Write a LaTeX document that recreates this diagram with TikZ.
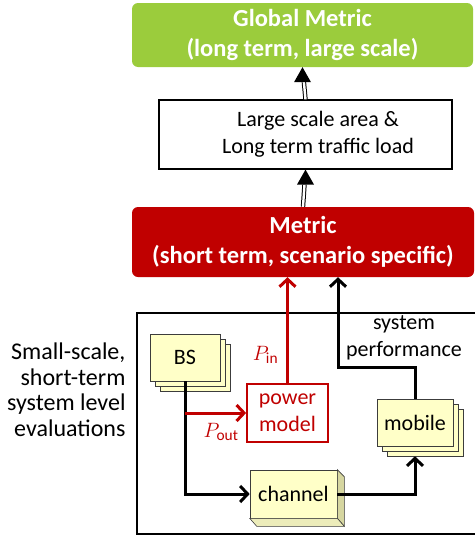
\documentclass[tikz,border=0pt]{standalone}
\usepackage{amsmath}
\usepackage{fontspec}
\setmainfont{Carlito}
\usepackage{tikz}
\usetikzlibrary{arrows.meta}
\usetikzlibrary{calc}
\usetikzlibrary{positioning}
\usetikzlibrary{shadows}
\definecolor{metricgreen}{RGB}{155,204,60}
\definecolor{metricred}{RGB}{192,0,0}
\definecolor{boxyellow}{RGB}{255,255,200}
\definecolor{sidedark}{RGB}{214,214,160}
\definecolor{sidelight}{RGB}{236,236,186}
\definecolor{edgegray}{RGB}{60,60,60}

\begin{document}
\begin{tikzpicture}[line cap=butt,line join=miter,x=1pt,y=-1pt,
  txt/.style={font=\fontsize{22}{27}\selectfont},
  headbox/.style={rounded corners=6pt,minimum width=341pt,minimum height=64pt,text=white,align=center,font=\fontsize{24.5}{30}\bfseries\selectfont},
  plainbox/.style={draw=black,line width=1.2pt,fill=white,minimum width=293pt,minimum height=69pt},
  stackbox/.style={draw=edgegray,line width=0.6pt,fill=boxyellow,txt,inner sep=0pt,double copy shadow={shadow xshift=5pt,shadow yshift=-5pt}},
  chanbox/.style={draw=edgegray,line width=0.6pt,fill=boxyellow,txt,inner sep=0pt,minimum width=87pt,minimum height=48pt},
  powerbox/.style={draw=metricred,line width=1.8pt,fill=white,text=metricred,txt,align=center,inner sep=0pt,minimum width=81pt,minimum height=58pt},
  blackarrow/.style={draw=black,line width=3pt,-{Straight Barb[length=7.5pt,width=16pt]}},
  redarrow/.style={draw=metricred,line width=3pt,-{Straight Barb[length=7.5pt,width=16pt]}},
  dbltip/.style={fill=black,draw=none},
  dblshaft/.style={draw=black,double=white,double distance=2.4pt,line width=1pt,shorten >=15pt}]
\useasboundingbox (0,0) rectangle (474,538);
% evaluation frame
\draw[line width=1.5pt] (137,313) rectangle (476,534);
\node[txt,anchor=east,align=right,font=\fontsize{24}{25.5}\selectfont] (evaltext) at (129,390) {Small-scale,\\short-term\\system level\\evaluations};
% top boxes
\node[headbox,fill=metricgreen] (global) at (302.5,35) {Global Metric\\(long term, large scale)};
\node[plainbox] (area) at (305.5,134.5) {};
\node[txt,align=center] (areatext) at (318,134.5) {Large scale area \&\\Long term traffic load};
\node[headbox,fill=metricred,minimum width=342pt,minimum height=70pt] (metric) at (303,242) {Metric\\(short term, scenario specific)};
% blocks of the evaluation
\node[stackbox,minimum width=70pt,minimum height=47pt] (bs) at (185,357.5) {BS};
\node[stackbox,minimum width=76pt,minimum height=47pt] (mobile) at (415,422.5) {mobile};
\node[powerbox] (power) at (287.5,413) {power\\model};
\node[chanbox] (channel) at (293.5,494) {channel};
\filldraw[draw=edgegray,line width=0.6pt,fill=sidedark] (channel.north east) -- ++(7,7) -- ($(channel.south east)+(7,8)$) -- (channel.south east) -- cycle;
\filldraw[draw=edgegray,line width=0.6pt,fill=sidelight] (channel.south west) -- (channel.south east) -- ($(channel.south east)+(7,8)$) -- ($(channel.south west)+(7,8)$) -- cycle;
\coordinate (perf) at (338,367);
% connectors
\draw[dblshaft] (area.north) -- (global.south);
\fill[dbltip] (global.south) -- ++(-8.5,15) -- ++(17,0) -- cycle;
\draw[dblshaft] (metric.north) -- (area.south);
\fill[dbltip] (area.south) -- ++(-8.5,15) -- ++(17,0) -- cycle;
\draw[blackarrow] (bs.south) |- (channel.west);
\draw[blackarrow] (channel.east) -| ([yshift=-10pt]mobile.south);
\draw[blackarrow] (mobile.north) |- (perf) -- (perf |- metric.south);
\draw[redarrow] (bs.south |- power.west) -- (power.west);
\draw[redarrow] (power.north) -- (power.north |- metric.south);
% labels
\node[txt,text=metricred] (pin) at (265.5,355) {$P_{\text{in}}$};
\node[txt,text=metricred] (pout) at (221,432) {$P_{\text{out}}$};
\node[txt,align=center] (perftext) at (404,338) {system\\performance};
\end{tikzpicture}
\end{document}
